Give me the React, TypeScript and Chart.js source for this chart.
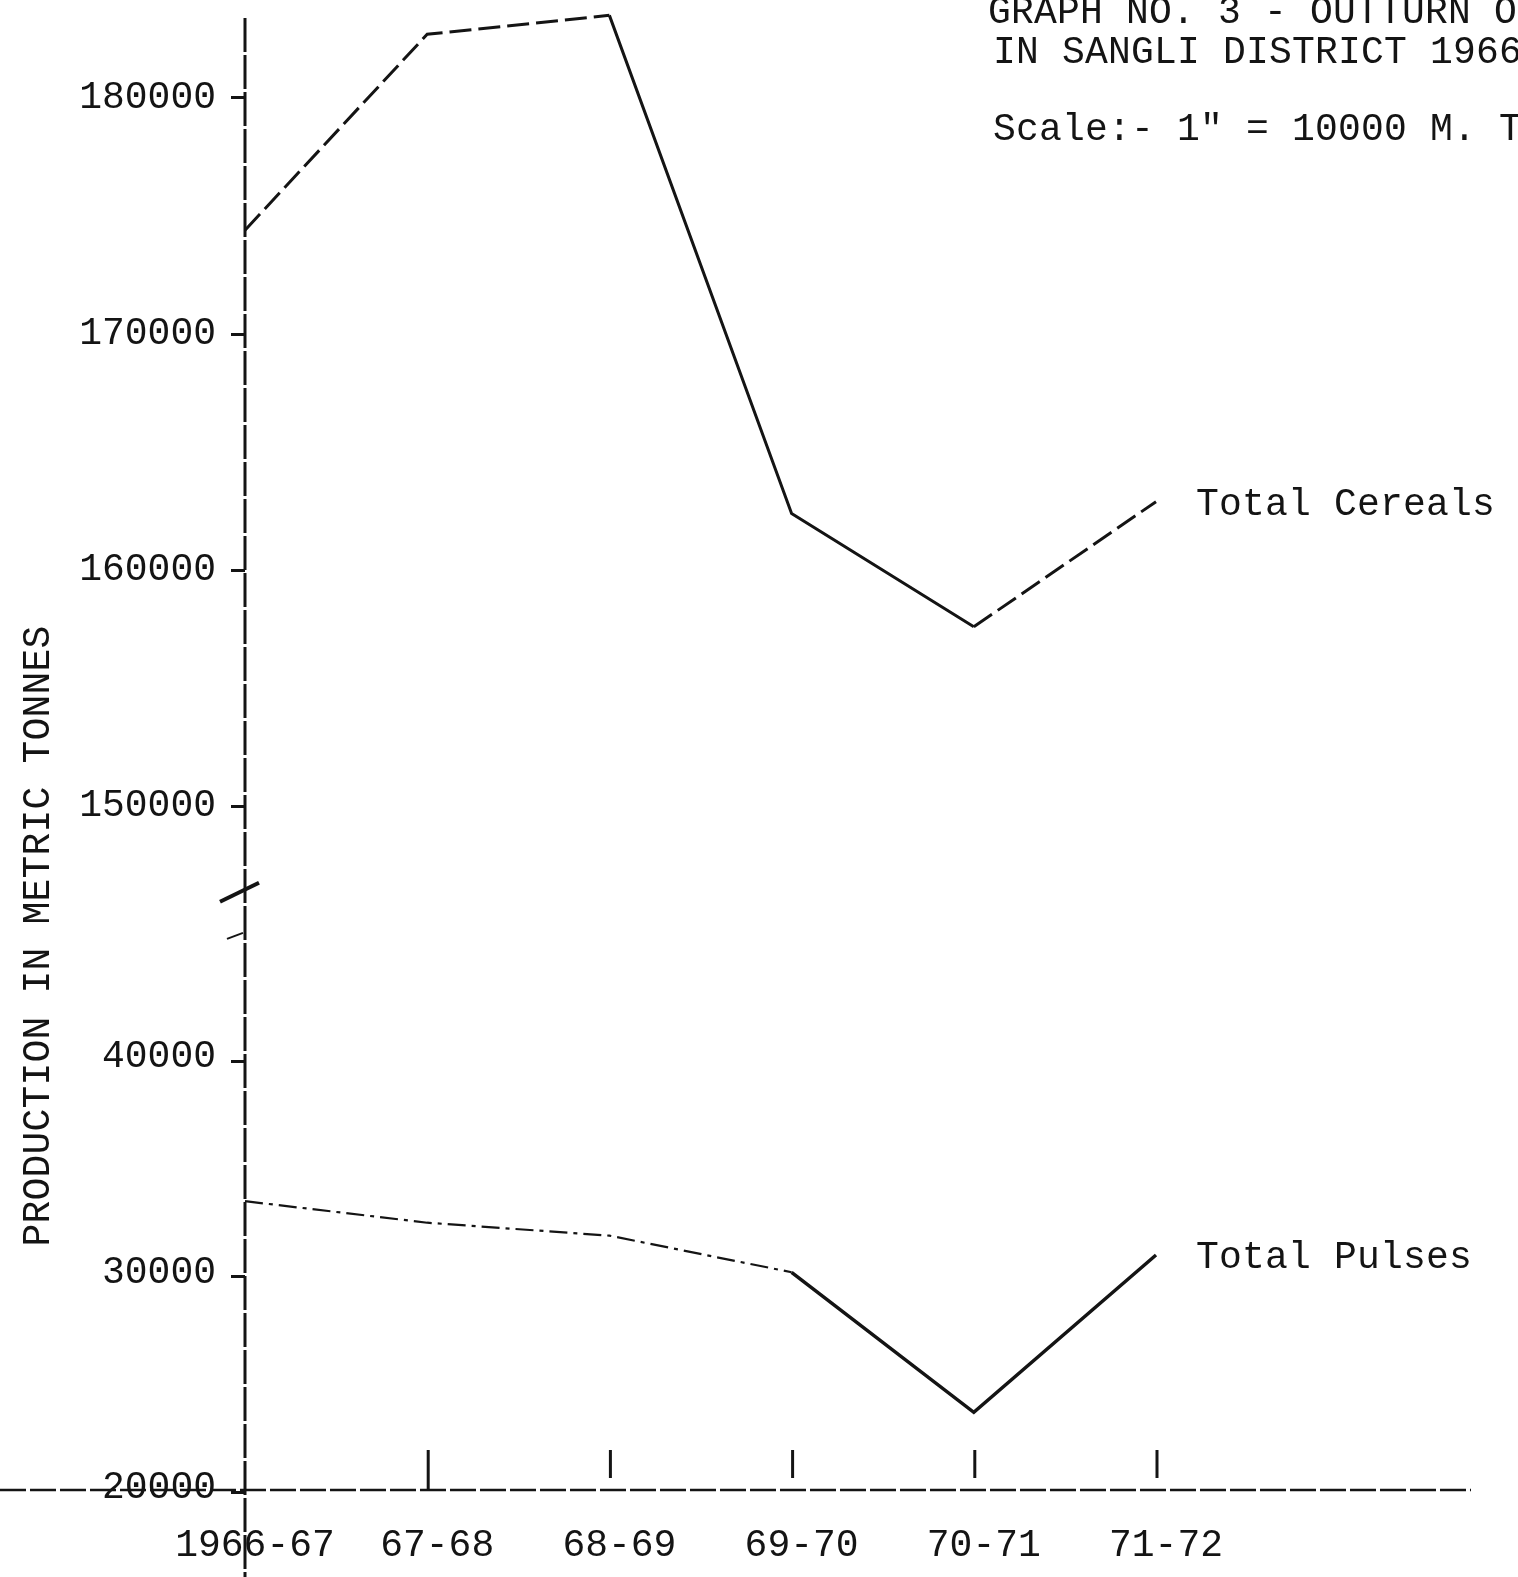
import React, { useEffect, useRef } from "react";
import { Chart, registerables } from "chart.js";

Chart.register(...registerables);

// ---- data ----
const years = ["1966-67", "67-68", "68-69", "69-70", "70-71", "71-72"];
const cereals = [174400, 182700, 183500, 162400, 157600, 162900];
const pulses = [33500, 32500, 31900, 30200, 23700, 31000];
const upperTicks = [150000, 160000, 170000, 180000];
const lowerTicks = [20000, 30000, 40000];
const upperRange = [146500, 183600];
const lowerRange = [20000, 48000];
const cerealsDashed = [true, true, false, false, true];
const pulsesDashed = [true, true, true, false, false];
const seriesNames = ["Total Cereals", "Total Pulses"];
const titleLines = [
  "GRAPH NO. 3 - OUTTURN O",
  "IN SANGLI DISTRICT 1966",
  'Scale:- 1" = 10000 M. T',
];
const yTitle = "PRODUCTION IN METRIC TONNES";

const INK = "#141414";
const MONO = "'Liberation Mono', 'DejaVu Sans Mono', monospace";

const decorPlugin = {
  id: "decor",
  afterDraw(chart: any) {
    const { ctx, chartArea, scales } = chart;
    const H = chart.height;
    ctx.save();
    ctx.strokeStyle = INK;
    ctx.fillStyle = INK;
    ctx.lineCap = "butt";

    // vertical axis
    ctx.lineWidth = 3;
    ctx.setLineDash([34, 3]);
    ctx.beginPath();
    ctx.moveTo(chartArea.left, 18);
    ctx.lineTo(chartArea.left, H);
    ctx.stroke();

    // horizontal axis
    ctx.lineWidth = 2.5;
    ctx.setLineDash([26, 4]);
    ctx.beginPath();
    ctx.moveTo(0, chartArea.bottom - 2);
    ctx.lineTo(1471, chartArea.bottom - 2);
    ctx.stroke();
    ctx.setLineDash([]);

    // x tick marks (above the axis line)
    const xs = scales.x;
    ctx.lineWidth = 3;
    for (let i = 1; i < years.length; i++) {
      const px = xs.getPixelForTick(i) + 1;
      ctx.beginPath();
      ctx.moveTo(px, chartArea.bottom - 42);
      ctx.lineTo(px, chartArea.bottom - (i === 1 ? 2 : 14));
      ctx.stroke();
    }

    // axis break marks
    const yb = scales.yTop.bottom;
    ctx.lineWidth = 4;
    ctx.beginPath();
    ctx.moveTo(chartArea.left - 25, yb + 13);
    ctx.lineTo(chartArea.left + 14, yb - 6);
    ctx.stroke();
    ctx.lineWidth = 2;
    ctx.beginPath();
    ctx.moveTo(chartArea.left - 18, yb + 50);
    ctx.lineTo(chartArea.left - 2, yb + 44);
    ctx.stroke();

    // title block
    ctx.font = `38px ${MONO}`;
    (ctx as any).letterSpacing = "0.2px";
    ctx.textAlign = "left";
    ctx.textBaseline = "alphabetic";
    const baselines = [23, 63, 140];
    const starts = [988, 993, 993];
    titleLines.forEach((t, i) => ctx.fillText(t, starts[i], baselines[i]));

    // series labels next to last point
    ctx.textBaseline = "middle";
    [0, 1].forEach((di) => {
      const meta = chart.getDatasetMeta(di);
      const pt = meta.data[meta.data.length - 1];
      ctx.fillText(seriesNames[di], pt.x + 40, pt.y + 3);
    });

    // y axis title
    ctx.save();
    ctx.translate(39, 936);
    ctx.rotate(-Math.PI / 2);
    ctx.textAlign = "center";
    ctx.textBaseline = "middle";
    ctx.fillText(yTitle, 0, 0);
    ctx.restore();

    (ctx as any).letterSpacing = "0px";
    ctx.restore();
  },
};

export default function App() {
  const ref = useRef<HTMLCanvasElement | null>(null);

  useEffect(() => {
    if (!ref.current) return;
    const yCommon = (ticksArr: number[], labelOffset: number) => ({
      type: "linear" as const,
      position: "left" as const,
      stack: "left",
      afterFit: (s: any) => {
        s.width = 245;
        s.paddingTop = 0;
        s.paddingBottom = 0;
      },
      afterBuildTicks: (s: any) => {
        s.ticks = ticksArr.map((v) => ({ value: v }));
      },
      border: { display: false },
      grid: {
        drawOnChartArea: false,
        drawTicks: true,
        tickLength: 14,
        tickColor: INK,
        tickWidth: 3,
      },
      ticks: {
        padding: 15,
        color: INK,
        labelOffset,
        font: { family: MONO, size: 38 },
        callback: (v: any) => String(v),
      },
    });

    const chart = new Chart(ref.current, {
      type: "line",
      data: {
        labels: years,
        datasets: [
          {
            label: seriesNames[0],
            data: cereals,
            yAxisID: "yTop",
            borderColor: INK,
            borderWidth: 3,
            pointRadius: 0,
            tension: 0,
            segment: {
              borderDash: (c: any) => (cerealsDashed[c.p0DataIndex] ? [22, 7] : undefined),
            },
          },
          {
            label: seriesNames[1],
            data: pulses,
            yAxisID: "yBot",
            borderColor: INK,
            borderWidth: 3,
            pointRadius: 0,
            tension: 0,
            segment: {
              borderDash: (c: any) => (pulsesDashed[c.p0DataIndex] ? [18, 6, 4, 6] : undefined),
              borderWidth: (c: any) => (pulsesDashed[c.p0DataIndex] ? 2.2 : 3.5),
            },
          },
        ],
      },
      options: {
        animation: false,
        responsive: false,
        devicePixelRatio: 1,
        layout: { padding: { top: 13, left: 0, right: 362, bottom: 0 } },
        plugins: {
          legend: { display: false },
          title: { display: false },
          tooltip: { enabled: false },
        },
        scales: {
          x: {
            type: "category",
            offset: false,
            afterFit: (s: any) => {
              s.height = 85;
            },
            border: { display: false },
            grid: { display: false, drawTicks: false },
            ticks: {
              autoSkip: false,
              maxRotation: 0,
              padding: 31,
              labelOffset: 10,
              color: INK,
              font: { family: MONO, size: 38 },
            },
          },
          yBot: {
            ...yCommon(lowerTicks, -4),
            min: lowerRange[0],
            max: lowerRange[1],
            stackWeight: 604,
          },
          yTop: {
            ...yCommon(upperTicks, 0),
            min: upperRange[0],
            max: upperRange[1],
            stackWeight: 877,
          },
        },
      } as any,
      plugins: [decorPlugin],
    });
    return () => chart.destroy();
  }, []);

  return (
    <div
      style={{
        position: "absolute",
        left: 0,
        top: 0,
        width: 1518,
        height: 1577,
        background: "#fff",
        overflow: "hidden",
      }}
    >
      <canvas ref={ref} width={1518} height={1577} style={{ display: "block" }} />
    </div>
  );
}
